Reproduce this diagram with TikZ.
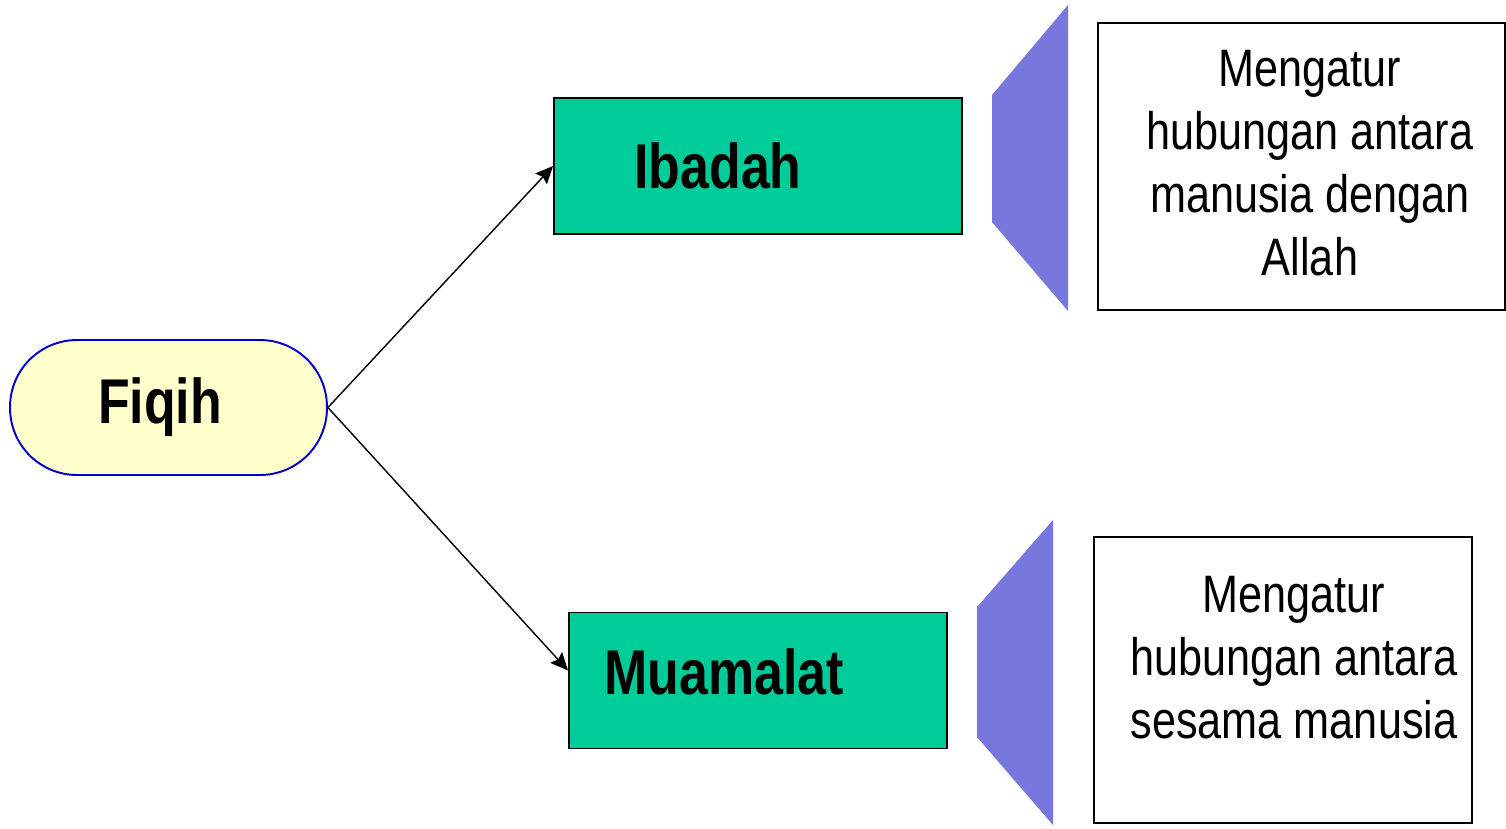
\documentclass[tikz,border=0pt]{standalone}
\usepackage{fontspec}
\setmainfont{Liberation Sans}[FakeStretch=0.82]
\usetikzlibrary{arrows.meta,calc}

\definecolor{hijau}{HTML}{00CC99}
\definecolor{kuning}{HTML}{FFFFCC}
\definecolor{biru}{HTML}{0000CC}
\definecolor{ungu}{HTML}{7777DD}

\begin{document}
\begin{tikzpicture}[x=0.02cm,y=-0.02cm,inner sep=0pt,
  kotak/.style={draw,line width=1.1pt,fill=hijau,minimum height=2.72cm},
  judul/.style={font=\fontsize{36}{40}\selectfont\bfseries},
  ket/.style={draw,line width=1.1pt,fill=white},
  isi/.style={align=center,font=\fontsize{30}{35.9}\selectfont},
  panah/.style={line width=0.8pt,-{Stealth[length=10pt,width=9pt,inset=1.5pt]}}]

\useasboundingbox (0,0) rectangle (1506,828);

\node[draw=biru,line width=1.1pt,fill=kuning,rounded corners=1.34cm,
  minimum width=6.34cm,minimum height=2.7cm] (fiqih) at (168.5,407.5) {};
\node[judul] (fiqihtxt) at (160,407.5) {Fiqih};

\node[kotak,minimum width=8.16cm] (ibadah) at (758,166) {};
\node[judul] (ibadahtxt) at (718,166) {Ibadah};

\node[kotak,minimum width=7.56cm] (muamalat) at (758,680.5) {};
\node[judul] (muamalattxt) at (724,672) {Muamalat};

\draw[panah] (fiqih.east) -- (ibadah.west);
\draw[panah] (fiqih.east) -- ([yshift=0.2cm]muamalat.west);

\fill[ungu] (992,95) -- (1068,5) -- (1068,311) -- (992,222) -- cycle;
\fill[ungu] (977,607) -- (1053,520) -- (1053,825) -- (977,737) -- cycle;

\node[ket,minimum width=8.14cm,minimum height=5.74cm] (ket1) at (1301.5,166.5) {};
\node[isi] (ket1txt) at (1310,163) {Mengatur\\hubungan antara\\manusia dengan\\Allah};

\node[ket,minimum width=7.56cm,minimum height=5.72cm] (ket2) at (1283,680) {};
\node[isi] (ket2txt) at (1294,658) {Mengatur\\hubungan antara\\sesama manusia};

\end{tikzpicture}
\end{document}
